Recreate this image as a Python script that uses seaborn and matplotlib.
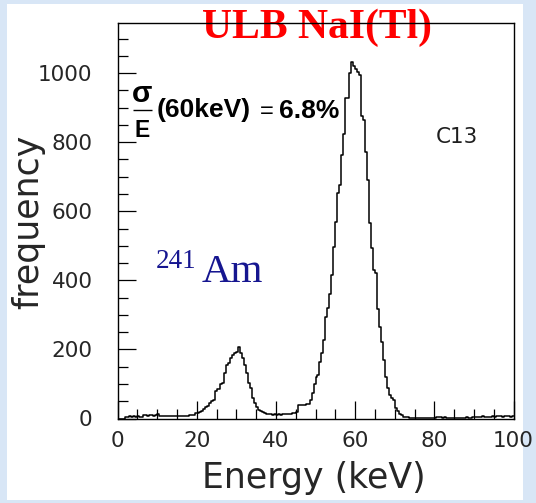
import numpy as np
import pandas as pd
import matplotlib
matplotlib.use("Agg")
import matplotlib.pyplot as plt
from matplotlib.patches import Rectangle
from matplotlib.ticker import MultipleLocator
import seaborn as sns

# 241Am spectrum measured with the ULB NaI(Tl) crystal (channel C13), 0.5 keV bins
bin_width = 0.5
energy_range = (0.0, 100.0)
energy_edges = np.arange(energy_range[0], energy_range[1] + bin_width, bin_width)

counts_0_10 = [0, 0, 0, 0, 5, 5, 6, 5, 6, 5, 6, 5, 5, 10, 10, 8, 9, 10, 8, 9]
counts_10_20 = [14, 8, 6, 6, 7, 6, 6, 7, 6, 8, 7, 6, 8, 7, 8, 7, 9, 10, 10, 15]
counts_20_30 = [17, 19, 22, 27, 33, 36, 44, 50, 54, 80, 84, 86, 100, 104, 131, 155, 160, 174, 184, 189]
counts_30_40 = [193, 206, 189, 174, 155, 131, 102, 87, 58, 44, 34, 24, 22, 19, 15, 13, 12, 12, 11, 12]
counts_40_50 = [11, 12, 11, 12, 13, 12, 12, 14, 15, 16, 18, 39, 39, 40, 40, 41, 42, 54, 73, 100]
counts_50_60 = [120, 126, 164, 189, 227, 295, 320, 360, 415, 497, 570, 652, 676, 763, 825, 927, 928, 1000, 1033, 1020]
counts_60_70 = [1012, 1002, 995, 875, 864, 772, 690, 565, 493, 430, 420, 316, 266, 222, 169, 121, 88, 68, 58, 54]
counts_70_80 = [30, 22, 12, 9, 5, 4, 3, 2, 2, 1, 1, 2, 1, 1, 2, 1, 1, 2, 1, 1]
counts_80_90 = [2, 3, 4, 3, 2, 3, 2, 1, 2, 1, 1, 2, 2, 1, 2, 2, 3, 2, 2, 3]
counts_90_100 = [4, 5, 4, 5, 6, 4, 3, 3, 4, 8, 5, 7, 8, 6, 5, 7, 6, 8, 5, 7]

counts = (counts_0_10 + counts_10_20 + counts_20_30 + counts_30_40 + counts_40_50
          + counts_50_60 + counts_60_70 + counts_70_80 + counts_80_90 + counts_90_100)
spectrum = pd.DataFrame({"energy": energy_edges[:-1] + bin_width / 2,
                         "counts": np.asarray(counts, dtype=float)})

x_ticks = [0, 20, 40, 60, 80, 100]
y_ticks = [0, 200, 400, 600, 800, 1000]

sns.set_style("ticks")
plt.rcParams["font.family"] = ["DejaVu Sans"]

W, H = 536, 503
fig = plt.figure(figsize=(W / 100, H / 100), dpi=100)
fig.patch.set_facecolor("#d8e6f6")
fig.add_artist(Rectangle((7 / W, 3 / H), (523 - 7) / W, (499 - 3) / H,
                         transform=fig.transFigure, facecolor="white",
                         edgecolor="none", zorder=0))

ax_left, ax_right, ax_top, ax_bottom = 117.5, 513.5, 23.3, 418.5
ax = fig.add_axes([ax_left / W, 1 - ax_bottom / H,
                   (ax_right - ax_left) / W, (ax_bottom - ax_top) / H])
ax.set_facecolor("white")

sns.histplot(data=spectrum, x="energy", weights="counts", binwidth=bin_width,
             binrange=energy_range, element="step", fill=False, color="black",
             linewidth=1.1, ax=ax, zorder=2)

ax.set_xlim(0, 100)
ax.set_ylim(0, 1144)
ax.set_xticks(x_ticks)
ax.set_yticks(y_ticks)
ax.xaxis.set_minor_locator(MultipleLocator(5))
ax.yaxis.set_minor_locator(MultipleLocator(50))
ax.tick_params(axis="both", which="both", direction="in", color="black",
               top=False, right=False, labelcolor="#262626")
ax.tick_params(axis="both", which="major", length=13, width=0.9, labelsize=15.5)
ax.tick_params(axis="both", which="minor", length=7, width=0.9)
ax.tick_params(axis="y", which="major", pad=18)
ax.tick_params(axis="x", which="major", pad=9)
for sp in ax.spines.values():
    sp.set_visible(True)
    sp.set_color("black")
    sp.set_linewidth(1.0)
    sp.set_zorder(3)

ax.set_xlabel("")
ax.set_ylabel("")
fig.text(314 / W, 1 - 488 / H, "Energy (keV)", ha="center", va="baseline",
         fontsize=25, color="#262626")
fig.text(38 / W, 1 - 222 / H, "frequency", ha="center", va="baseline",
         rotation=90, rotation_mode="anchor", fontsize=25, color="#262626")

# title, drawn beneath the frame line
ax.text(0.503, 0.962, "ULB NaI(Tl)", transform=ax.transAxes, ha="center",
        va="baseline", family="Liberation Serif", fontweight="bold",
        fontsize=30, color="#ff0000", zorder=1, clip_on=False)

# resolution annotation: sigma/E (60keV) = 6.8%
ax_w, ax_h = ax_right - ax_left, ax_bottom - ax_top
def fx(px):
    return (px - ax_left) / ax_w
def fy(py):
    return (ax_bottom - py) / ax_h

ax.text(fx(142.5), fy(93.5), "σ", transform=ax.transAxes, ha="center", va="center",
        family="Liberation Sans", fontweight="bold", fontsize=21.5, color="black")
ax.plot([fx(133), fx(152)], [fy(110), fy(110)], transform=ax.transAxes,
        color="black", linewidth=1.0, solid_capstyle="butt")
ax.text(fx(142.5), fy(137), "E", transform=ax.transAxes, ha="center", va="baseline",
        family="Liberation Sans", fontweight="bold", fontsize=16.5, color="black")
ax.text(fx(157), fy(116.5), "(60keV)", transform=ax.transAxes, ha="left", va="baseline",
        family="Liberation Sans", fontweight="bold", fontsize=19, color="black")
ax.text(fx(266.5), fy(117.5), "=", transform=ax.transAxes, ha="center", va="baseline",
        family="Liberation Sans", fontsize=17, color="black")
ax.text(fx(279), fy(117.5), "6.8%", transform=ax.transAxes, ha="left", va="baseline",
        family="Liberation Sans", fontweight="bold", fontsize=19, color="black")

ax.text(fx(436), fy(143), "C13", transform=ax.transAxes, ha="left", va="baseline",
        fontsize=15.5, color="#1e1e1e")

# source label
ax.text(fx(155.6), fy(268), "241", transform=ax.transAxes, ha="left", va="baseline",
        family="Liberation Serif", fontsize=19.5, color="#161690")
ax.text(fx(201.7), fy(282), "Am", transform=ax.transAxes, ha="left", va="baseline",
        family="Liberation Serif", fontsize=29.5, color="#161690")

fig.savefig("out.png", dpi=100, facecolor=fig.get_facecolor())
